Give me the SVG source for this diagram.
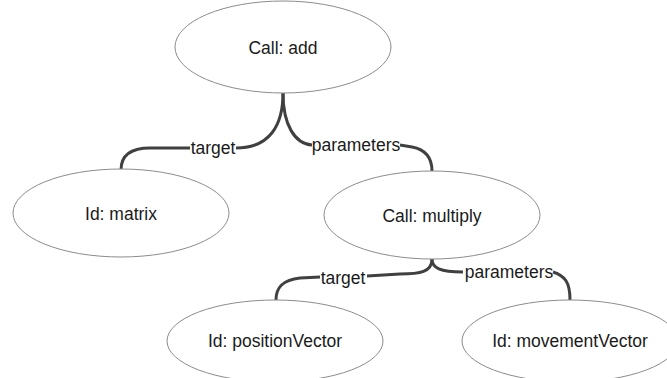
<svg xmlns="http://www.w3.org/2000/svg" width="667" height="378" viewBox="0 0 667 378">
<style>
.n{fill:#fff;stroke:#8c8c8c;stroke-width:1}
.t{font-family:"Liberation Sans",Arial,sans-serif;font-size:17.5px;fill:#1a1a1a;text-anchor:middle;dominant-baseline:central}
.c{fill:none;stroke:#404040;stroke-width:3}
</style>
<rect width="667" height="378" fill="#fff"/>
<g id="connectors">
<path class="c" d="M283,93 C283,125 270,148 236,148"/>
<path class="c" d="M190,148 L150,148 C128,148 121,158 121,170"/>
<path class="c" d="M283,93 C283,125 295,144 312,145"/>
<path class="c" d="M400,145 L412,147 C428,150 432,160 432,171"/>
<path class="c" d="M432,259 C432,272 420,274 400,274 L367,276"/>
<path class="c" d="M320,277 L300,278 C282,280 276,288 276,300"/>
<path class="c" d="M432,259 C432,268 440,272 463,272"/>
<path class="c" d="M553,272 C565,276 570,282 570,300"/>
<text class="t" x="213" y="148">target</text>
<text class="t" x="356" y="145">parameters</text>
<text class="t" x="343" y="278">target</text>
<text class="t" x="509" y="272">parameters</text>
</g>
<g id="call-add"><ellipse class="n" cx="283" cy="47" rx="108" ry="46"/><text class="t" x="283" y="48">Call: add</text></g>
<g id="id-matrix"><ellipse class="n" cx="121" cy="213" rx="108" ry="44"/><text class="t" x="121" y="214">Id: matrix</text></g>
<g id="call-multiply"><ellipse class="n" cx="432" cy="215" rx="108" ry="44"/><text class="t" x="432" y="216">Call: multiply</text></g>
<g id="id-positionVector"><ellipse class="n" cx="275" cy="341" rx="108" ry="41"/><text class="t" x="275" y="341">Id: positionVector</text></g>
<g id="id-movementVector"><ellipse class="n" cx="570" cy="341" rx="108" ry="41"/><text class="t" x="570" y="341">Id: movementVector</text></g>
</svg>
